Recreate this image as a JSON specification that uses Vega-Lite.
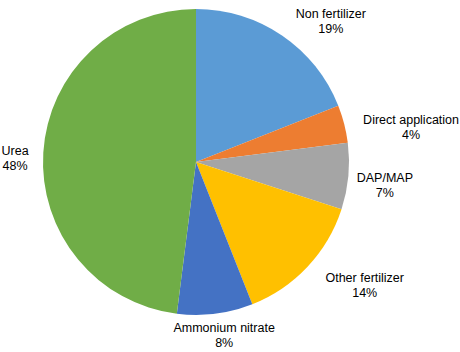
{
  "$schema": "https://vega.github.io/schema/vega-lite/v6.json",
  "width": 392,
  "height": 324,
  "autosize": {"type": "none"},
  "padding": {"left": 0, "top": 0, "right": 68, "bottom": 28},
  "background": "white",
  "view": {"stroke": null},
  "config": {"font": "Liberation Sans"},
  "data": {
    "values": [
      {"category": "Non fertilizer", "value": 19, "order": 1},
      {"category": "Direct application", "value": 4, "order": 2},
      {"category": "DAP/MAP", "value": 7, "order": 3},
      {"category": "Other fertilizer", "value": 14, "order": 4},
      {"category": "Ammonium nitrate", "value": 8, "order": 5},
      {"category": "Urea", "value": 48, "order": 6}
    ]
  },
  "transform": [
    {"calculate": "datum.category + '\\n' + datum.value + '%'", "as": "label"}
  ],
  "encoding": {
    "theta": {"field": "value", "type": "quantitative", "stack": true},
    "order": {"field": "order", "type": "quantitative"},
    "color": {
      "field": "category",
      "type": "nominal",
      "legend": null,
      "scale": {
        "domain": ["Non fertilizer", "Direct application", "DAP/MAP", "Other fertilizer", "Ammonium nitrate", "Urea"],
        "range": ["#5B9BD5", "#ED7D31", "#A5A5A5", "#FFC000", "#4472C4", "#70AD47"]
      }
    }
  },
  "layer": [
    {"mark": {"type": "arc", "outerRadius": 153}},
    {
      "mark": {
        "type": "text",
        "radius": {"expr": "cos(PI*(datum.value_start+datum.value_end)/100) < -0.9 ? 161 : 170"},
        "fontSize": 12.5,
        "lineBreak": "\n",
        "lineHeight": 15,
        "align": "center",
        "dx": {"expr": "sin(PI*(datum.value_start+datum.value_end)/100) > 0.3 ? length(datum.category)*2.8 : (sin(PI*(datum.value_start+datum.value_end)/100) < -0.3 ? -length(datum.category)*2.8 : 8)"},
        "dy": {"expr": "cos(PI*(datum.value_start+datum.value_end)/100) > 0.7 ? -7 : 0"},
        "baseline": {"expr": "cos(PI*(datum.value_start+datum.value_end)/100) < -0.9 ? 'top' : 'middle'"},
        "color": "black"
      },
      "encoding": {
        "text": {"field": "label", "type": "nominal"},
        "color": {"value": "black"}
      }
    }
  ]
}
